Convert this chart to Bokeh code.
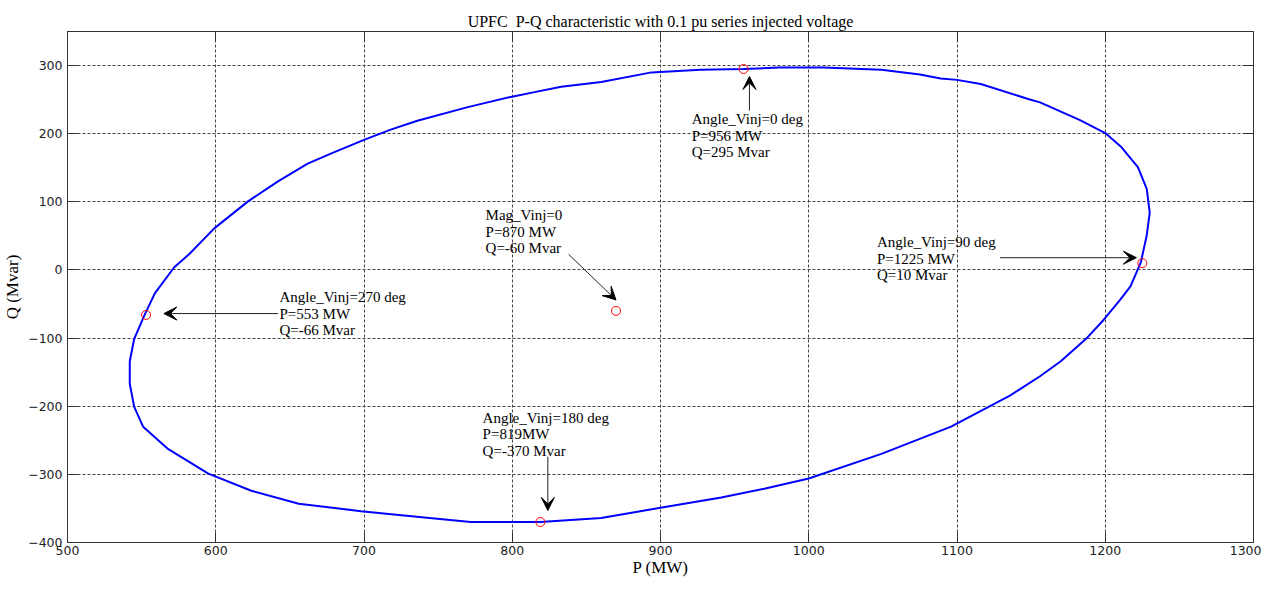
from bokeh.plotting import figure
from bokeh.models import Range1d, FixedTicker, LinearAxis, Arrow, VeeHead
from bokeh.core.properties import value
from bokeh.embed import file_html
from bokeh.resources import INLINE

title = "UPFC\u00a0 P-Q characteristic with 0.1 pu series injected voltage"
x_label = "P (MW)"
y_label = "Q (Mvar)"

# P-Q locus, closed loop
P_curve = [956, 980, 1010, 1049, 1075, 1089, 1100, 1116, 1148, 1156, 1183, 1200, 1211, 1222,
           1228, 1230, 1228, 1224, 1217, 1210, 1199, 1188, 1170, 1156, 1136, 1096, 1049, 1000,
           970, 941, 900, 860, 819, 800, 772, 739, 698, 656, 624, 595, 568, 551, 545, 542, 542, 545,
           552, 559, 572, 582, 599, 622, 642, 662, 680, 700, 718, 736, 770, 799, 815, 833, 860, 894,
           927, 956]
Q_curve = [295, 297, 297, 294, 287, 281, 279, 273, 251, 246, 220, 201, 180, 151,
           119, 84, 51, 11, -24, -44, -73, -99, -134, -156, -184, -230, -270, -306,
           -321, -334, -349, -364, -370, -370, -370, -363, -354, -343, -324, -299, -263, -230, -201,
           -167, -134, -101, -66, -34, 4, 23, 61, 101, 130, 156, 173, 191, 206, 219, 239, 254, 261,
           269, 276, 290, 294, 295]

mark_P = [956, 1225, 553, 819, 870]
mark_Q = [295, 10, -66, -370, -60]

notes = [
    ["Angle_Vinj=0 deg", "P=956 MW", "Q=295 Mvar"],
    ["Angle_Vinj=90 deg", "P=1225 MW", "Q=10 Mvar"],
    ["Angle_Vinj=270 deg", "P=553 MW", "Q=-66 Mvar"],
    ["Angle_Vinj=180 deg", "P=819MW", "Q=-370 Mvar"],
    ["Mag_Vinj=0", "P=870 MW", "Q=-60 Mvar"],
]
note_x = [921, 1046, 643, 780, 782]
note_y = [221, 41, -40, -217, 80]

arrow_x0 = [960, 1129, 642, 824, 838]
arrow_y0 = [234, 18, -64, -274, 23]
arrow_x1 = [960, 1221, 565, 824, 870]
arrow_y1 = [284, 18, -64, -353, -44]

x_ticks = [500, 600, 700, 800, 900, 1000, 1100, 1200, 1300]
y_ticks = [-400, -300, -200, -100, 0, 100, 200, 300]

serif = "Liberation Serif"

p = figure(width=1261, height=579, output_backend="svg", toolbar_location=None,
           x_range=Range1d(500, 1300), y_range=Range1d(-400, 350),
           min_border_left=66, min_border_right=8, min_border_top=31, min_border_bottom=33)

p.title.text = title
p.title.align = "center"
p.title.text_font = serif
p.title.text_font_size = "16px"
p.title.text_font_style = "normal"
p.title.text_color = "#000000"
p.title.offset = 0
p.title.standoff = 4

p.outline_line_color = "#333333"
p.outline_line_width = 1
p.background_fill_color = "white"
p.border_fill_color = "white"

for ax in p.xaxis:
    ax.ticker = FixedTicker(ticks=x_ticks)
for ax in p.yaxis:
    ax.ticker = FixedTicker(ticks=y_ticks)

for ax in list(p.xaxis) + list(p.yaxis):
    ax.major_tick_in = 10
    ax.major_tick_out = 0
    ax.minor_tick_line_color = None
    ax.axis_line_color = "#333333"
    ax.major_tick_line_color = "#333333"
    ax.major_label_text_font = "DejaVu Sans"
    ax.major_label_text_font_size = "12.5px"
    ax.major_label_text_color = "#222222"
    ax.axis_label_text_font = serif
    ax.axis_label_text_font_size = "17px"
    ax.axis_label_text_font_style = "normal"
    ax.axis_label_text_color = "#000000"

for ax in p.xaxis:
    ax.major_label_standoff = 3
    ax.axis_label_standoff = 0
for ax in p.yaxis:
    ax.major_label_standoff = 5
    ax.axis_label_standoff = 3

p.xaxis.axis_label = x_label
p.yaxis.axis_label = y_label

# mirrored ticks on top and right (MATLAB box)
top_ax = LinearAxis(ticker=FixedTicker(ticks=x_ticks), major_tick_in=10, major_tick_out=0,
                    minor_tick_line_color=None, major_label_text_font_size="0px",
                    major_label_standoff=0, axis_line_color="#333333",
                    major_tick_line_color="#333333")
right_ax = LinearAxis(ticker=FixedTicker(ticks=y_ticks), major_tick_in=10, major_tick_out=0,
                      minor_tick_line_color=None, major_label_text_font_size="0px",
                      major_label_standoff=0, axis_line_color="#333333",
                      major_tick_line_color="#333333")
p.add_layout(top_ax, "above")
p.add_layout(right_ax, "right")

for g in (p.xgrid[0], p.ygrid[0]):
    g.grid_line_color = "#444444"
    g.grid_line_dash = "3 2"
    g.grid_line_width = 1

p.line(P_curve, Q_curve, line_color="#0000ff", line_width=2)

p.scatter(mark_P, mark_Q, marker="circle", size=9, fill_color=None,
          line_color="#ff0000", line_width=1)

for x0, y0, x1, y1 in zip(arrow_x0, arrow_y0, arrow_x1, arrow_y1):
    p.add_layout(Arrow(x_start=x0, y_start=y0, x_end=x1, y_end=y1,
                       line_color="#222222", line_width=1,
                       end=VeeHead(size=13, fill_color="#000000", line_color="#000000",
                                   line_width=1)))

for lines, nx, ny in zip(notes, note_x, note_y):
    p.text(x=[nx] * len(lines), y=[ny] * len(lines), text=lines,
           y_offset=[16.5 * i for i in range(len(lines))],
           text_font=value(serif), text_font_size="15px", text_color="#000000",
           text_align="left", text_baseline="middle")

open("out.html", "w").write(file_html(p, INLINE))
